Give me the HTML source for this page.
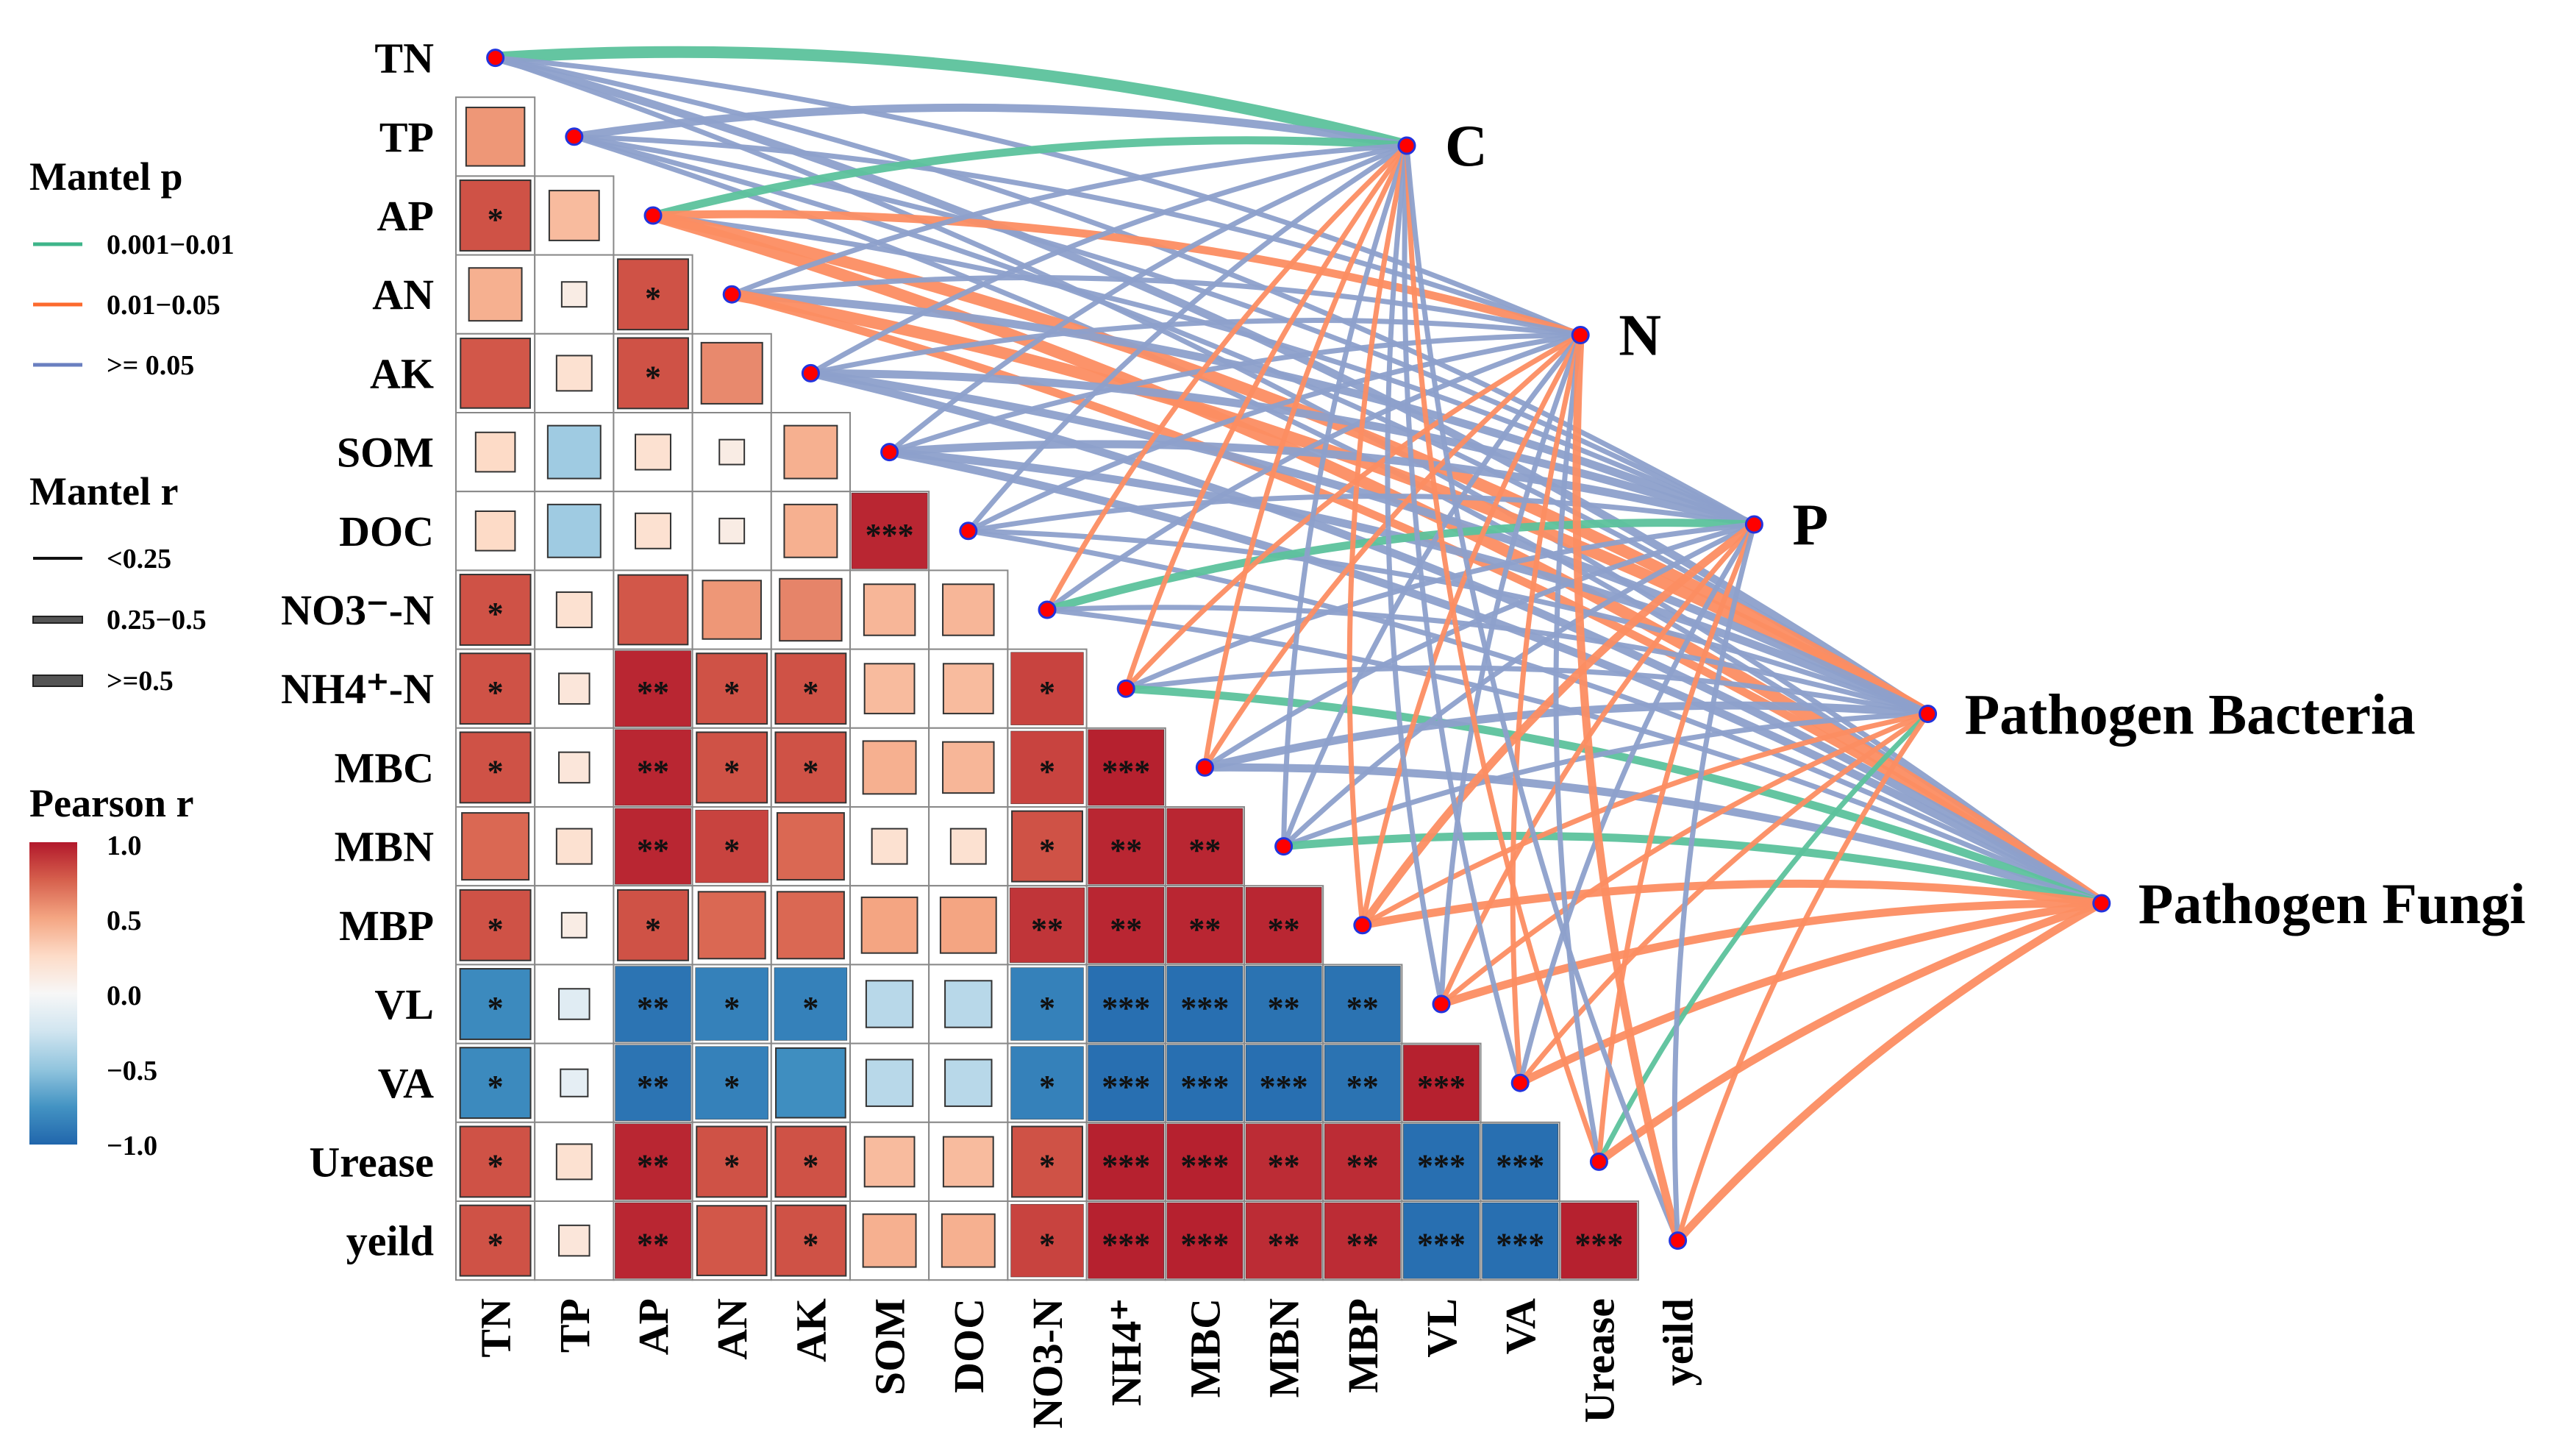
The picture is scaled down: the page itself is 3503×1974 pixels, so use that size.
<!DOCTYPE html>
<html><head><meta charset="utf-8">
<style>
html,body{margin:0;padding:0;background:#fff;}
svg{display:block;font-family:"Liberation Serif",serif;font-weight:bold;}
</style></head>
<body>
<svg id="chart" width="3503" height="1974" viewBox="0 0 3503 1974" xmlns="http://www.w3.org/2000/svg">
  <g id="edges"></g>
  <g id="grid"></g>
  <g id="labels"></g>
  <g id="nodes"></g>
  <g id="legend">
    <text x="40" y="258" font-size="54">Mantel p</text>
    <line x1="45" x2="112" y1="332" y2="332" stroke="#3fb58a" stroke-width="5"/>
    <text x="145" y="345" font-size="38">0.001−0.01</text>
    <line x1="45" x2="112" y1="414" y2="414" stroke="#fc6a2e" stroke-width="5"/>
    <text x="145" y="427" font-size="38">0.01−0.05</text>
    <line x1="45" x2="112" y1="496" y2="496" stroke="#6a7fc0" stroke-width="5"/>
    <text x="145" y="509" font-size="38">&gt;= 0.05</text>
    <text x="40" y="686" font-size="54">Mantel r</text>
    <line x1="45" x2="112" y1="759" y2="759" stroke="#111" stroke-width="4"/>
    <text x="145" y="772" font-size="38">&lt;0.25</text>
    <rect x="45" y="838" width="67" height="9" fill="#555" stroke="#222" stroke-width="2"/>
    <text x="145" y="855" font-size="38">0.25−0.5</text>
    <rect x="45" y="918" width="67" height="15" fill="#555" stroke="#222" stroke-width="2"/>
    <text x="145" y="938" font-size="38">&gt;=0.5</text>
    <text x="40" y="1110" font-size="54">Pearson r</text>
    <defs><linearGradient id="cb" x1="0" y1="0" x2="0" y2="1">
      <stop offset="0" stop-color="#b2182b"/><stop offset="0.125" stop-color="#d6604d"/><stop offset="0.25" stop-color="#f4a582"/><stop offset="0.375" stop-color="#fddbc7"/><stop offset="0.5" stop-color="#f7f7f7"/><stop offset="0.625" stop-color="#d1e5f0"/><stop offset="0.75" stop-color="#92c5de"/><stop offset="0.875" stop-color="#4393c3"/><stop offset="1" stop-color="#2166ac"/>
    </linearGradient></defs>
    <rect x="40" y="1145" width="65" height="411" fill="url(#cb)"/>
    <text x="145" y="1162" font-size="38">1.0</text>
    <text x="145" y="1264" font-size="38">0.5</text>
    <text x="145" y="1366" font-size="38">0.0</text>
    <text x="145" y="1468" font-size="38">−0.5</text>
    <text x="145" y="1570" font-size="38">−1.0</text>
  </g>
</svg>
<script>
const vars = ["TN","TP","AP","AN","AK","SOM","DOC","NO3⁻-N","NH4⁺-N","MBC","MBN","MBP","VL","VA","Urease","yeild"];
const colLabels = ["TN","TP","AP","AN","AK","SOM","DOC","NO3-N","NH4⁺","MBC","MBN","MBP","VL","VA","Urease","yeild"];
const rowTP = [0.55];
const rowAP = [0.8,0.4];
const rowAN = [0.45,0.1,0.8];
const rowAK = [0.78,0.2,0.8,0.6];
const rowSOM = [0.25,-0.45,0.2,0.1,0.45];
const rowDOC = [0.25,-0.45,0.2,0.1,0.45,0.95];
const rowNO3 = [0.8,0.2,0.78,0.55,0.62,0.42,0.42];
const rowNH4 = [0.8,0.15,0.95,0.8,0.8,0.4,0.4,0.85];
const rowMBC = [0.8,0.15,0.95,0.8,0.8,0.45,0.42,0.85,0.97];
const rowMBN = [0.72,0.2,0.95,0.85,0.72,0.2,0.2,0.8,0.95,0.95];
const rowMBP = [0.8,0.1,0.8,0.72,0.72,0.5,0.5,0.9,0.95,0.95,0.95];
const rowVL = [-0.8,-0.15,-0.92,-0.85,-0.85,-0.35,-0.35,-0.85,-0.95,-0.95,-0.93,-0.93];
const rowVA = [-0.8,-0.12,-0.92,-0.85,-0.78,-0.35,-0.35,-0.85,-0.95,-0.95,-0.95,-0.93,0.97];
const rowUrease = [0.8,0.2,0.95,0.8,0.8,0.4,0.4,0.8,0.97,0.97,0.93,0.93,-0.95,-0.95];
const rowYeild = [0.8,0.15,0.95,0.78,0.8,0.45,0.45,0.85,0.97,0.97,0.93,0.93,-0.95,-0.95,0.97];
const sigTP = [""];
const sigAP = ["*",""];
const sigAN = ["","","*"];
const sigAK = ["","","*",""];
const sigSOM = ["","","","",""];
const sigDOC = ["","","","","","***"];
const sigNO3 = ["*","","","","","",""];
const sigNH4 = ["*","","**","*","*","","","*"];
const sigMBC = ["*","","**","*","*","","","*","***"];
const sigMBN = ["","","**","*","","","","*","**","**"];
const sigMBP = ["*","","*","","","","","**","**","**","**"];
const sigVL = ["*","","**","*","*","","","*","***","***","**","**"];
const sigVA = ["*","","**","*","","","","*","***","***","***","**","***"];
const sigUrease = ["*","","**","*","*","","","*","***","***","**","**","***","***"];
const sigYeild = ["*","","**","","*","","","*","***","***","**","**","***","***","***"];
const corr = [[],rowTP,rowAP,rowAN,rowAK,rowSOM,rowDOC,rowNO3,rowNH4,rowMBC,rowMBN,rowMBP,rowVL,rowVA,rowUrease,rowYeild];
const sigs = [[],sigTP,sigAP,sigAN,sigAK,sigSOM,sigDOC,sigNO3,sigNH4,sigMBC,sigMBN,sigMBP,sigVL,sigVA,sigUrease,sigYeild];
const targets = ["C","N","P","Pathogen Bacteria","Pathogen Fungi"];
const pTN=[0,2,2,2,2], pTP=[2,2,2,2,2], pAP=[0,1,2,1,1], pAN=[2,2,2,1,1], pAK=[2,2,2,2,2], pSOM=[2,2,2,2,2], pDOC=[2,2,2,2,2], pNO3=[1,2,0,2,2];
const pNH4=[1,1,2,2,0], pMBC=[1,1,2,2,2], pMBN=[2,2,2,2,0], pMBP=[1,1,1,1,1], pVL=[2,2,1,1,1], pVA=[2,1,2,1,1], pUre=[1,2,1,0,1], pYei=[2,1,2,1,1];
const rTN=[2,0,0,1,0], rTP=[1,0,0,0,0], rAP=[1,1,0,2,2], rAN=[0,0,1,2,1], rAK=[0,0,1,1,1], rSOM=[0,0,1,1,1], rDOC=[0,0,0,0,0], rNO3=[0,0,1,0,0];
const rNH4=[0,0,0,0,1], rMBC=[0,0,0,1,1], rMBN=[0,0,0,0,1], rMBP=[0,0,1,0,1], rVL=[0,0,0,0,1], rVA=[0,0,0,0,1], rUre=[0,0,0,0,1], rYei=[0,1,0,0,1];
const pCat=[pTN,pTP,pAP,pAN,pAK,pSOM,pDOC,pNO3,pNH4,pMBC,pMBN,pMBP,pVL,pVA,pUre,pYei];
const rCat=[rTN,rTP,rAP,rAN,rAK,rSOM,rDOC,rNO3,rNH4,rMBC,rMBN,rMBP,rVL,rVA,rUre,rYei];

const NS="http://www.w3.org/2000/svg";
const CELL=107.2, GX=620, GY=25;
const cx = j => GX + CELL*(j+0.5);
const cy = i => GY + CELL*(i+0.5);
const TX0=1913, TY0=198, TDX=236.2, TDY=257.5;
const tx = k => TX0 + TDX*k;
const ty = k => TY0 + TDY*k;
function mk(tag, attrs, parent){const e=document.createElementNS(NS,tag);for(const k in attrs)e.setAttribute(k,attrs[k]);parent.appendChild(e);return e;}
const stops=[[178,24,43],[214,96,77],[244,165,130],[253,219,199],[247,247,247],[209,229,240],[146,197,222],[67,147,195],[33,102,172]];
function col(r){const t=(1-r)/2*8;const i=Math.min(7,Math.floor(t));const f=t-i;const a=stops[i],b=stops[i+1];return `rgb(${a.map((v,k)=>Math.round(v+(b[k]-v)*f)).join(',')})`;}

const grid=document.getElementById('grid');
for(let i=1;i<16;i++){for(let j=0;j<i;j++){
  const r=corr[i][j];
  const bg=mk('rect',{x:GX+CELL*j,y:GY+CELL*i,width:CELL,height:CELL,fill:'#fff',stroke:'#888','stroke-width':2},grid);
  
  
  const s=Math.min(CELL-4,CELL*Math.sqrt(Math.abs(r)));
  const sq=mk('rect',{x:cx(j)-s/2,y:cy(i)-s/2,width:s,height:s,fill:col(r),stroke:'#333','stroke-width':s>CELL-10?0.5:2},grid);
  
  
  if(sigs[i][j]){const t=mk('text',{x:cx(j),y:cy(i)+20,'font-size':44,'text-anchor':'middle',fill:'#111'},grid);t.textContent=sigs[i][j];
    
    }
}}

const labels=document.getElementById('labels');
vars.forEach((v,i)=>{const t=mk('text',{x:590,y:cy(i)+20,'font-size':58,'text-anchor':'end'},labels);t.textContent=v;
  
  });
colLabels.forEach((v,j)=>{const t=mk('text',{x:0,y:0,'font-size':58,'text-anchor':'end',transform:`translate(${cx(j)+20},1765) rotate(-90)`},labels);t.textContent=v;
  
  });

const edges=document.getElementById('edges');
const pCol=['#5cc29c','#fc8d62','#8da0cb'];
const wid=[7,11,16];
for(let i=0;i<16;i++){for(let k=0;k<5;k++){
  const x1=cx(i),y1=cy(i),x2=tx(k),y2=ty(k);
  const dx=x2-x1,dy=y2-y1,L=Math.hypot(dx,dy);
  const mx=(x1+x2)/2+dy*0.08, my=(y1+y2)/2-dx*0.08;
  const p=mk('path',{d:`M${x1},${y1} Q${mx},${my} ${x2},${y2}`,fill:'none',stroke:pCol[pCat[i][k]],'stroke-width':wid[rCat[i][k]],'stroke-opacity':0.95},edges);
  
  
}}

const nodes=document.getElementById('nodes');
for(let i=0;i<16;i++){const c=mk('circle',{cx:cx(i),cy:cy(i),r:11,fill:'#f00',stroke:'#2233dd','stroke-width':3},nodes);
  
  }
targets.forEach((n,k)=>{const c=mk('circle',{cx:tx(k),cy:ty(k),r:11,fill:'#f00',stroke:'#2233dd','stroke-width':3},nodes);
  
  
  const t=mk('text',{x:tx(k)+(k<3?52:50),y:ty(k)+27,'font-size':k<3?80:78},nodes);t.textContent=n;
  
  });
</script>
</body></html>
